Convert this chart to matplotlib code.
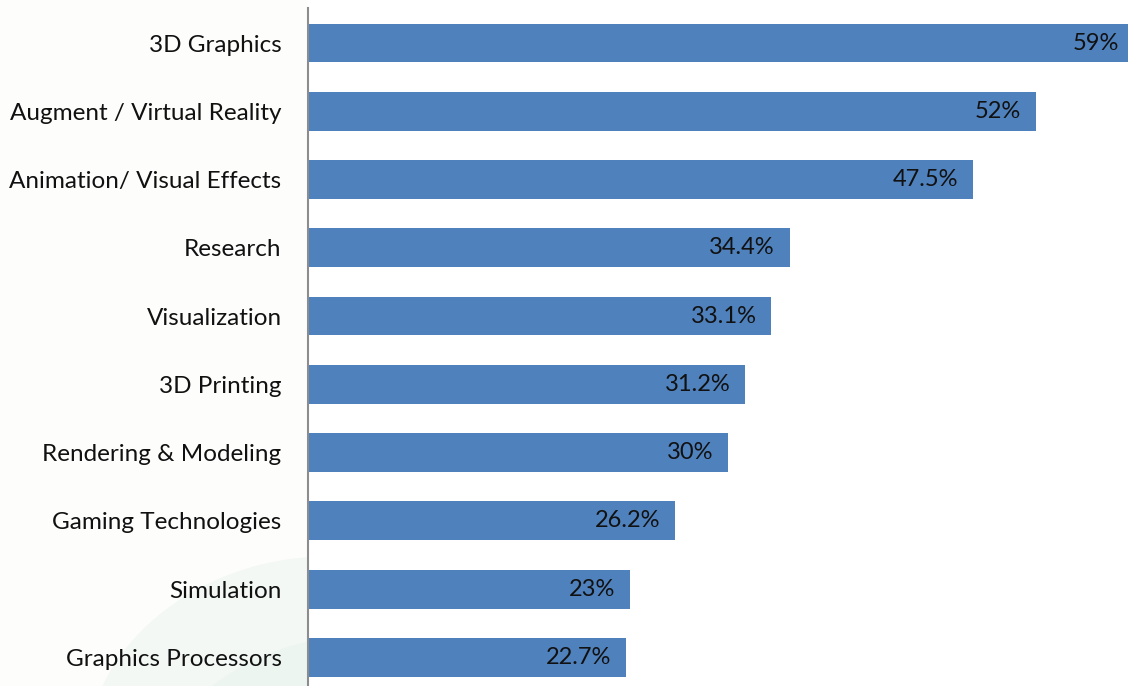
import matplotlib
matplotlib.use("Agg")
import matplotlib.pyplot as plt
from matplotlib.patches import Ellipse
from matplotlib.transforms import offset_copy

categories = [
    "3D Graphics",
    "Augment / Virtual Reality",
    "Animation/ Visual Effects",
    "Research",
    "Visualization",
    "3D Printing",
    "Rendering & Modeling",
    "Gaming Technologies",
    "Simulation",
    "Graphics Processors",
]
values = [59, 52, 47.5, 34.4, 33.1, 31.2, 30, 26.2, 23, 22.7]
value_labels = ["59%", "52%", "47.5%", "34.4%", "33.1%", "31.2%", "30%", "26.2%", "23%", "22.7%"]

plt.rcParams["font.family"] = ["Lato", "DejaVu Sans"]

W, H = 1128, 686
fig = plt.figure(figsize=(W / 100, H / 100), dpi=100)
fig.patch.set_facecolor("white")

# faint decorative swoosh behind the category labels
bg = fig.add_axes([0, 0, 308 / W, 1], zorder=0)
bg.set_xlim(0, 308)
bg.set_ylim(686, 0)
bg.axis("off")
bg.add_patch(plt.Rectangle((0, 0), 308, 686, color="#fdfdfc", lw=0))
bg.add_patch(Ellipse((300, 730), 430, 340, angle=-15, color="#f3f8f5", lw=0))
bg.add_patch(Ellipse((330, 770), 360, 260, angle=-15, color="#edf5f0", lw=0))

ax_left = 308 / W
ax = fig.add_axes([ax_left, 0, 1 - ax_left, (H - 8) / H], zorder=1)

pos = list(range(len(categories)))
ax.barh(pos, values, height=0.57, color="#4F81BD", zorder=2)

ax.set_xlim(0, 58.57)
ax.set_ylim(9.42, -0.513)

for i, (v, lab) in enumerate(zip(values, value_labels)):
    tr = offset_copy(ax.transData, fig=fig, x=-10.5, y=0, units="points")
    ax.text(v, i, lab, transform=tr, ha="right", va="center",
            fontsize=17, color="#111111", zorder=3)

ax.set_yticks(pos)
ax.set_yticklabels(categories, fontsize=17.5, color="#111111")
ax.tick_params(axis="y", length=0, pad=19)
ax.set_xticks([])

for s in ["top", "right", "bottom"]:
    ax.spines[s].set_visible(False)
ax.spines["left"].set_color("#8c8c8c")
ax.spines["left"].set_linewidth(1.5)
ax.set_facecolor("none")

fig.savefig("out.png", dpi=100, facecolor="white")
